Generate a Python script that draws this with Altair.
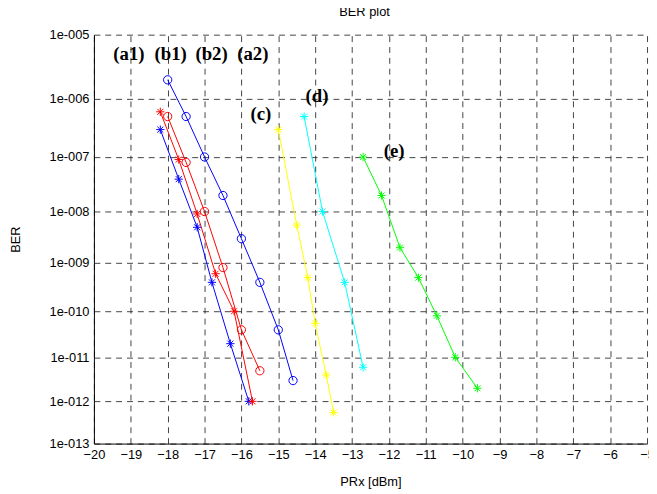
import altair as alt
import pandas as pd

# ---- data ----
series_names = ["(a1)", "(b1)", "(b2)", "(a2)", "(c)", "(d)", "(e)"]
series_colors = ["#0000ff", "#ff0000", "#ff0000", "#0000ff", "#ffff00", "#00ffff", "#00ff00"]
series_markers = ["star", "star", "circle", "circle", "star", "star", "star"]

a1_x = [-18.2, -17.7, -17.2, -16.8, -16.3, -15.8]
a1_ber = [3e-7, 4e-8, 5e-9, 4e-10, 2e-11, 1e-12]
b1_x = [-18.2, -17.7, -17.2, -16.7, -16.2, -15.7]
b1_ber = [6e-7, 9e-8, 9e-9, 6e-10, 1e-10, 1e-12]
b2_x = [-18.0, -17.5, -17.0, -16.5, -16.0, -15.5]
b2_ber = [5e-7, 8e-8, 1e-8, 8e-10, 4e-11, 5e-12]
a2_x = [-18.0, -17.5, -17.0, -16.5, -16.0, -15.5, -15.0, -14.6]
a2_ber = [2e-6, 5e-7, 1e-7, 2e-8, 3e-9, 4e-10, 4e-11, 3e-12]
c_x = [-15.0, -14.5, -14.2, -14.0, -13.7, -13.5]
c_ber = [3e-7, 5.5e-9, 5e-10, 5.5e-11, 4e-12, 5.5e-13]
d_x = [-14.3, -13.8, -13.2, -12.7]
d_ber = [5e-7, 1e-8, 4e-10, 6e-12]
e_x = [-12.7, -12.2, -11.7, -11.2, -10.7, -10.2, -9.6]
e_ber = [1e-7, 2e-8, 2e-9, 5e-10, 8e-11, 1e-11, 2e-12]

ann_text = ["(a1)", "(b1)", "(b2)", "(a2)", "(c)", "(d)", "(e)"]
ann_x = [-19.05, -17.92, -16.81, -15.69, -15.47, -13.95, -11.86]
ann_ber = [5e-6, 5e-6, 5e-6, 5e-6, 5.4e-7, 1.1e-6, 1.25e-7]

x_ticks = list(range(-20, -4))
y_exponents = list(range(5, 14))

# ---- build tables ----
all_x = [a1_x, b1_x, b2_x, a2_x, c_x, d_x, e_x]
all_ber = [a1_ber, b1_ber, b2_ber, a2_ber, c_ber, d_ber, e_ber]
rows = []
for name, xs, bs in zip(series_names, all_x, all_ber):
    for i, (xv, bv) in enumerate(zip(xs, bs)):
        rows.append({"series": name, "x": xv, "ber": bv, "i": i})
df = pd.DataFrame(rows)
ann = pd.DataFrame({"label": ann_text, "x": ann_x, "ber": ann_ber})

star_path = "M0,-1L0,1M-1,0L1,0M-0.72,-0.72L0.72,0.72M-0.72,0.72L0.72,-0.72"
shape_range = [star_path if m == "star" else "circle" for m in series_markers]

x_enc = alt.X(
    "x:Q",
    scale=alt.Scale(domain=[-20, -5], nice=False, zero=False),
    axis=alt.Axis(
        values=x_ticks, title="PRx [dBm]", format="d",
        titleY=38, titleBaseline="middle",
    ),
)
y_enc = alt.Y(
    "nl:Q",
    scale=alt.Scale(type="sqrt", domain=[5, 13], reverse=True, zero=False, nice=False),
    axis=alt.Axis(
        values=y_exponents,
        labelExpr="datum.value < 10 ? '1e-00' + datum.value : '1e-0' + datum.value",
        title="BER", titleX=-79, titleY=207, titleBaseline="middle", titleAlign="center",
    ),
)
color_enc = alt.Color("series:N", scale=alt.Scale(domain=series_names, range=series_colors), legend=None)
shape_enc = alt.Shape("series:N", scale=alt.Scale(domain=series_names, range=shape_range), legend=None)

base = alt.Chart(df).transform_calculate(nl="-log(datum.ber) / LN10")

lines = base.mark_line(strokeWidth=1).encode(
    x=x_enc, y=y_enc, color=color_enc, detail="series:N", order="i:Q"
)
points = base.mark_point(filled=False, size=70, strokeWidth=1, opacity=1).encode(
    x=x_enc, y=y_enc, color=color_enc, shape=shape_enc
)
labels = alt.Chart(ann).transform_calculate(nl="-log(datum.ber) / LN10").mark_text(
    font="Liberation Serif", fontWeight="bold", fontSize=19, color="black",
    align="center", baseline="middle",
).encode(x=x_enc, y=y_enc, text="label:N")

chart = (
    alt.layer(lines, points, labels)
    .properties(
        width=560, height=414,
        autosize=alt.AutoSizeParams(type="none"),
        padding={"left": 87, "top": 24, "right": 2, "bottom": 44},
        title=alt.TitleParams(
            "BER plot", font="Liberation Sans", fontSize=13, fontWeight="normal",
            color="black", anchor="middle", dx=-6, offset=0, baseline="alphabetic",
        ),
    )
    .configure_view(stroke=None)
    .configure_axis(
        domainColor="black", domainWidth=1,
        ticks=False, tickSize=0,
        labelFont="Liberation Sans", labelFontSize=13, labelColor="black",
        labelPadding=5, labelOverlap=False, labelFlush=False, labelBound=False,
        titleFont="Liberation Sans", titleFontSize=13, titleFontWeight="normal", titleColor="black",
        grid=True, gridColor="#222222", gridDash=[6, 5], gridWidth=1, gridOpacity=0.85,
    )
)

chart.save("out.html", embed_options={"renderer": "svg", "actions": False})
